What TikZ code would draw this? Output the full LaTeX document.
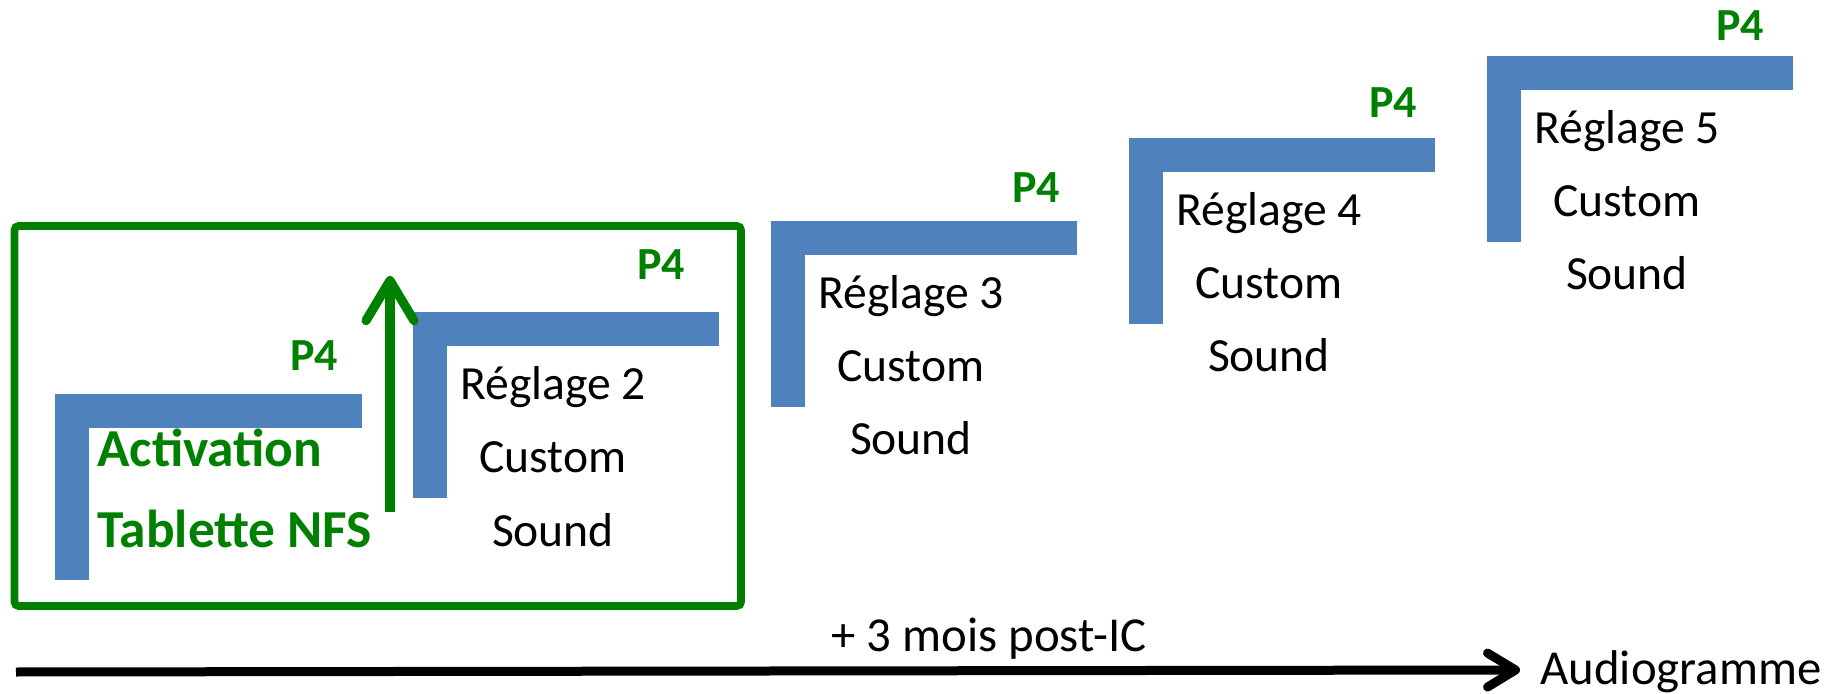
\documentclass[tikz,border=0pt]{standalone}
\usepackage{fontspec}
\setmainfont{Carlito}
\usepackage{xcolor}
\usetikzlibrary{arrows.meta, positioning}
\definecolor{stepblue}{RGB}{79,129,189}
\definecolor{pgreen}{RGB}{0,128,0}

\begin{document}
\begin{tikzpicture}[x=0.5pt, y=-0.5pt,
        bar/.style={draw=stepblue, line width=17pt, line join=miter},
        txt/.style={font=\fontsize{23.8}{28}\selectfont, anchor=base, inner sep=0pt},
        axe/.style={font=\fontsize{24.4}{29}\selectfont, inner sep=0pt},
        ptag/.style={text=pgreen, font=\bfseries\fontsize{23}{28}\selectfont, inner sep=0pt},
        act/.style={text=pgreen, font=\bfseries\fontsize{26.7}{31}\selectfont, anchor=base west, inner sep=0pt}]
    \useasboundingbox (0,0) rectangle (1835,694);

    % cadre activation
    \draw[pgreen, line width=3.8pt, rounded corners=2pt] (14.5,226) rectangle (741,606);

    % marches
    \draw[bar] (72,580) -- (72,411) -- (362,411);
    \draw[bar] (430,498) -- (430,329) -- (719,329);
    \draw[bar] (788,407) -- (788,238) -- (1077,238);
    \draw[bar] (1146,324) -- (1146,155) -- (1435,155);
    \draw[bar] (1504,242) -- (1504,73) -- (1793,73);

    \node[ptag] (p1) at (314,356) {P4};
    \node[ptag] (p2) at (661,265) {P4};
    \node[ptag] (p3) at (1036,188) {P4};
    \node[ptag] (p4) at (1393,103) {P4};
    \node[ptag] (p5) at (1740,26) {P4};

    \node[act] (act) at (97,467) {Activation};
    \node[act] (nfs) at (97,547) {Tablette NFS};

    \node[txt] (r2) at (553,400) {Réglage 2};
    \node[txt] (c2) at (553,473) {Custom};
    \node[txt] (s2) at (553,546) {Sound};
    \node[txt] (r3) at (911,309) {Réglage 3};
    \node[txt] (c3) at (911,382) {Custom};
    \node[txt] (s3) at (911,455) {Sound};
    \node[txt] (r4) at (1269,226) {Réglage 4};
    \node[txt] (c4) at (1269,299) {Custom};
    \node[txt] (s4) at (1269,372) {Sound};
    \node[txt] (r5) at (1627,144) {Réglage 5};
    \node[txt] (c5) at (1627,217) {Custom};
    \node[txt] (s5) at (1627,290) {Sound};

    % passage a la marche 2
    \coordinate (up0) at (390,512);
    \coordinate (up1) at (390,276);
    \draw[pgreen, line width=4.6pt, -{Straight Barb[length=20pt, width=24pt, round]}] (up0) -- (up1);

    % axe du temps
    \node[axe, anchor=base] (delay) at (989,651) {+ 3 mois post-IC};
    \node[axe, anchor=base west] (audio) at (1540,684) {Audiogramme};
    \coordinate (t0) at (16,672);
    \coordinate (t1) at (1520,670);
    \draw[black, line width=4.5pt, -{Straight Barb[length=14pt, width=17pt, round]}] (t0) -- (t1);
\end{tikzpicture}
\end{document}
